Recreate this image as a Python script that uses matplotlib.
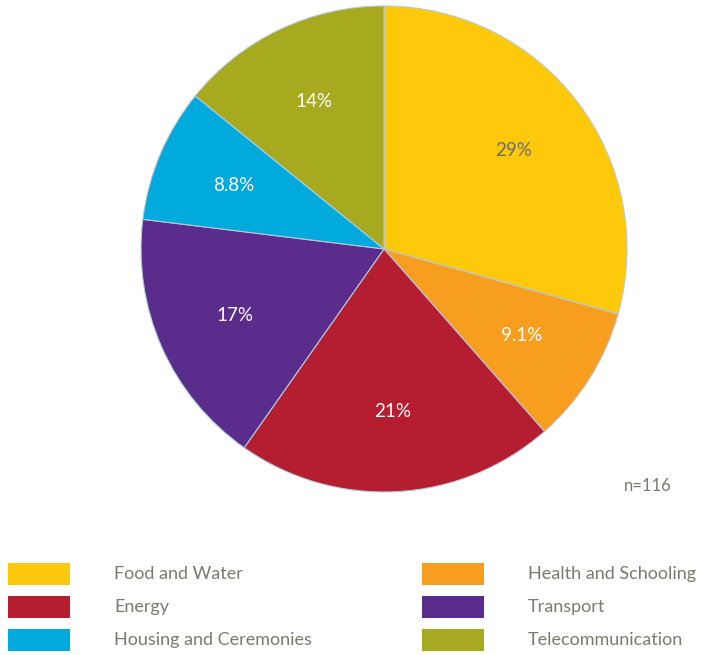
import math

import matplotlib
matplotlib.use("Agg")
import matplotlib.pyplot as plt
from matplotlib.patches import Rectangle

plt.rcParams["font.family"] = ["Lato", "DejaVu Sans"]

# data
categories = ["Food and Water", "Health and Schooling", "Energy",
              "Transport", "Housing and Ceremonies", "Telecommunication"]
shares = [29, 9.1, 21, 17, 8.8, 14]
pct_labels = ["29%", "9.1%", "21%", "17%", "8.8%", "14%"]
colors = ["#FEC80B", "#F79E1F", "#B41E30", "#5A2D8D", "#00AADC", "#A7AA1E"]
pct_colors = ["#6E6E66", "white", "white", "white", "white", "white"]
n_total = 116

text_gray = "#7A7A6E"

fig = plt.figure(figsize=(7.05, 6.55), dpi=100)
ax = fig.add_axes([0.2, 0.2489, 0.6894, 0.742])

wedges, texts = ax.pie(
    shares, colors=colors, startangle=90, counterclock=False,
    wedgeprops=dict(edgecolor="#B5CADA", linewidth=0.8),
)
ax.set_xlim(-1.0, 1.0)
ax.set_ylim(-1.0, 1.0)
ax.set_aspect("equal")

# percent labels inside the slices
total = sum(shares)
angle = 90.0
for val, lab, col in zip(shares, pct_labels, pct_colors):
    span = 360.0 * val / total
    mid = math.radians(angle - span / 2)
    ax.text(0.67 * math.cos(mid), 0.67 * math.sin(mid), lab,
            ha="center", va="center", color=col, fontsize=13.5)
    angle -= span

fig.text(648 / 705, 1 - 486 / 655, f"n={n_total}", ha="center", va="center",
         color=text_gray, fontsize=12)

# legend, two columns
col_x = [8, 422]
row_y = [574, 607, 640]
for i, (cat, col) in enumerate(zip(categories, colors)):
    cx = col_x[i % 2]
    cy = row_y[i // 2]
    fig.patches.append(Rectangle((cx / 705, 1 - (cy + 11) / 655), 62 / 705, 22 / 655,
                                 transform=fig.transFigure, facecolor=col,
                                 edgecolor="none"))
    fig.text((cx + 106) / 705, 1 - cy / 655, cat, ha="left", va="center",
             color=text_gray, fontsize=13)

fig.savefig("out.png", dpi=100)
